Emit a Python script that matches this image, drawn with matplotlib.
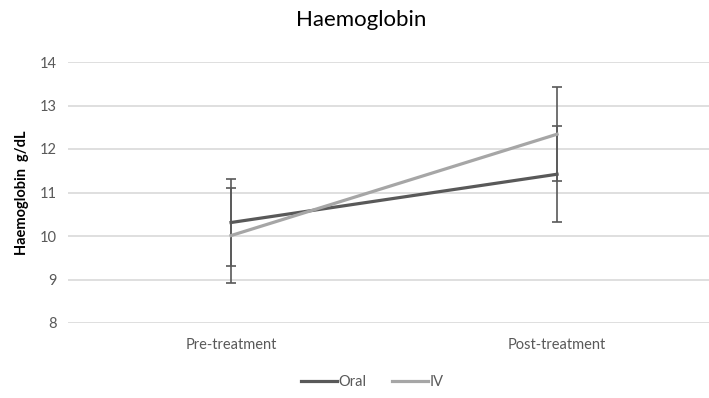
"""Haemoglobin pre/post treatment, oral vs IV."""
import matplotlib
matplotlib.use('Agg')
import matplotlib.pyplot as plt

categories = ['Pre-treatment', 'Post-treatment']
oral_mean = [10.31, 11.42]
oral_err = [1.0, 1.1]
iv_mean = [10.01, 12.34]
iv_err = [1.1, 1.08]

plt.rcParams['font.family'] = ['Lato', 'DejaVu Sans']

fig = plt.figure(figsize=(7.09, 3.98), dpi=100)
ax = fig.add_axes([68/709, 75/398, 641/709, 261/398])

x = list(range(len(categories)))
ax.errorbar(x, oral_mean, yerr=oral_err, color='#595959', linewidth=2.3,
            ecolor='#595959', elinewidth=1.2, capsize=3.8, capthick=1.2,
            label='Oral', zorder=3)
ax.errorbar(x, iv_mean, yerr=iv_err, color='#A6A6A6', linewidth=2.3,
            ecolor='#595959', elinewidth=1.2, capsize=3.8, capthick=1.2,
            label='IV', zorder=3)

ax.set_xlim(-0.5, 1.466)
ax.set_ylim(8, 14)
ax.set_xticks(x)
ax.set_xticklabels(categories)
ax.set_yticks(range(8, 15))
ax.tick_params(length=0, labelsize=10.5, colors='#595959', pad=8)
ax.tick_params(axis='x', pad=11)
ax.grid(axis='y', color='#D9D9D9', linewidth=1.2)
ax.set_axisbelow(True)
for s in ax.spines.values():
    s.set_visible(False)

ax.set_ylabel('Haemoglobin  g/dL', fontsize=10.5, fontweight='bold', labelpad=8)
fig.text(0.51, 0.95, 'Haemoglobin', ha='center', va='center', fontsize=16, color='#000000')

handles, labels = ax.get_legend_handles_labels()
handles = [h[0] for h in handles]
fig.legend(handles, labels, loc='center', bbox_to_anchor=(0.525, 0.04), ncol=2,
           frameon=False, fontsize=10.5, handlelength=2.5, handletextpad=0.1,
           columnspacing=1.7, labelcolor='#595959')

fig.savefig('out.png', dpi=100)
